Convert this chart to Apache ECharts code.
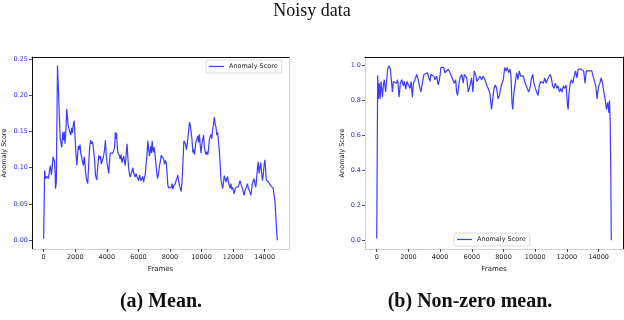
<!DOCTYPE html>
<html>
<head>
<meta charset="utf-8">
<script src="https://cdn.jsdelivr.net/npm/echarts@6/dist/echarts.min.js"></script>
<style>
  html, body { margin: 0; padding: 0; background: #fff; }
  #chart { width: 624px; height: 320px; }
</style>
</head>
<body>
<div id="chart"></div>
<script>
// tick values
const frameTicks = [0, 2000, 4000, 6000, 8000, 10000, 12000, 14000]
const meanTicks = [0, 0.05, 0.10, 0.15, 0.20, 0.25]
const nonZeroTicks = [0, 0.2, 0.4, 0.6, 0.8, 1.0]

// (a) mean anomaly score, [frame, score]
const meanScores = [
  [0, 0.002], [60, 0.096], [120, 0.085], [200, 0.088], [300, 0.085], [380, 0.098], [430, 0.103],
  [490, 0.090], [540, 0.100], [590, 0.115], [640, 0.112], [690, 0.108], [720, 0.095], [750, 0.071],
  [800, 0.080], [840, 0.078], [875, 0.241], [920, 0.215], [970, 0.186], [1010, 0.160], [1050, 0.140],
  [1100, 0.133], [1150, 0.128], [1210, 0.149], [1260, 0.138], [1300, 0.150], [1350, 0.133], [1400, 0.148],
  [1460, 0.181], [1500, 0.172], [1550, 0.158], [1620, 0.156], [1670, 0.148], [1720, 0.145], [1770, 0.155],
  [1820, 0.148], [1880, 0.160], [1930, 0.165], [1980, 0.145], [2040, 0.121], [2100, 0.103], [2150, 0.118],
  [2200, 0.130], [2250, 0.125], [2300, 0.132], [2350, 0.120], [2410, 0.118], [2460, 0.108], [2520, 0.103],
  [2560, 0.115], [2600, 0.110], [2650, 0.095], [2700, 0.085], [2790, 0.078], [2870, 0.112], [2920, 0.130],
  [2970, 0.138], [3030, 0.133], [3080, 0.136], [3130, 0.131], [3180, 0.133], [3230, 0.110], [3280, 0.090],
  [3360, 0.083], [3420, 0.100], [3490, 0.117], [3550, 0.112], [3600, 0.116], [3650, 0.105], [3700, 0.103],
  [3750, 0.112], [3800, 0.117], [3860, 0.125], [3910, 0.138], [3960, 0.120], [4010, 0.107], [4060, 0.100],
  [4120, 0.092], [4170, 0.108], [4220, 0.120], [4270, 0.118], [4330, 0.122], [4380, 0.120], [4440, 0.124],
  [4490, 0.128], [4540, 0.149], [4580, 0.140], [4620, 0.148], [4660, 0.130], [4700, 0.121], [4750, 0.120],
  [4790, 0.117], [4850, 0.112], [4900, 0.118], [4960, 0.107], [5010, 0.112], [5070, 0.116], [5120, 0.108],
  [5170, 0.103], [5230, 0.120], [5280, 0.133], [5330, 0.115], [5380, 0.100], [5440, 0.090], [5490, 0.087],
  [5540, 0.092], [5590, 0.095], [5650, 0.100], [5700, 0.093], [5750, 0.090], [5800, 0.087], [5860, 0.092],
  [5900, 0.088], [5960, 0.085], [6010, 0.082], [6070, 0.090], [6120, 0.088], [6170, 0.082], [6220, 0.085],
  [6280, 0.088], [6330, 0.080], [6380, 0.086], [6430, 0.090], [6490, 0.105], [6540, 0.117], [6600, 0.137],
  [6650, 0.125], [6700, 0.116], [6740, 0.122], [6780, 0.130], [6830, 0.120], [6870, 0.137], [6920, 0.125],
  [6960, 0.121], [7000, 0.128], [7040, 0.121], [7080, 0.112], [7120, 0.103], [7170, 0.092], [7210, 0.085],
  [7260, 0.090], [7340, 0.103], [7400, 0.110], [7445, 0.117], [7500, 0.115], [7550, 0.118], [7600, 0.112],
  [7655, 0.105], [7710, 0.110], [7760, 0.107], [7810, 0.095], [7865, 0.076], [7920, 0.072], [7970, 0.071],
  [8020, 0.074], [8080, 0.073], [8130, 0.078], [8180, 0.070], [8240, 0.075], [8290, 0.073], [8340, 0.078],
  [8395, 0.083], [8450, 0.086], [8500, 0.090], [8550, 0.082], [8600, 0.076], [8650, 0.078], [8710, 0.067],
  [8760, 0.080], [8815, 0.103], [8880, 0.137], [8930, 0.135], [8980, 0.133], [9045, 0.125], [9090, 0.132],
  [9130, 0.140], [9180, 0.150], [9235, 0.163], [9290, 0.158], [9340, 0.156], [9390, 0.140], [9450, 0.121],
  [9500, 0.125], [9550, 0.118], [9600, 0.128], [9655, 0.137], [9710, 0.140], [9760, 0.144], [9810, 0.135],
  [9865, 0.146], [9920, 0.130], [9970, 0.120], [10020, 0.132], [10075, 0.139], [10130, 0.145], [10180, 0.128],
  [10230, 0.122], [10285, 0.118], [10340, 0.122], [10390, 0.118], [10440, 0.125], [10495, 0.139], [10550, 0.140],
  [10600, 0.146], [10650, 0.140], [10705, 0.153], [10760, 0.160], [10810, 0.170], [10860, 0.160], [10915, 0.156],
  [10970, 0.145], [11020, 0.149], [11080, 0.135], [11145, 0.117], [11190, 0.100], [11230, 0.083], [11280, 0.078],
  [11335, 0.071], [11390, 0.080], [11440, 0.089], [11490, 0.085], [11545, 0.080], [11600, 0.085], [11650, 0.088],
  [11700, 0.080], [11755, 0.076], [11810, 0.072], [11860, 0.078], [11910, 0.070], [11965, 0.073], [12020, 0.068],
  [12070, 0.064], [12120, 0.070], [12175, 0.073], [12230, 0.075], [12280, 0.071], [12330, 0.074], [12385, 0.078],
  [12440, 0.082], [12490, 0.078], [12540, 0.075], [12595, 0.071], [12650, 0.066], [12700, 0.062], [12750, 0.068],
  [12805, 0.070], [12860, 0.075], [12910, 0.078], [12960, 0.072], [13015, 0.070], [13070, 0.066], [13120, 0.062],
  [13170, 0.070], [13225, 0.078], [13280, 0.082], [13330, 0.085], [13380, 0.078], [13435, 0.073], [13490, 0.085],
  [13540, 0.099], [13590, 0.108], [13645, 0.092], [13700, 0.100], [13750, 0.107], [13800, 0.095], [13855, 0.082],
  [13910, 0.090], [13960, 0.103], [14010, 0.111], [14050, 0.100], [14100, 0.083], [14150, 0.085], [14210, 0.083],
  [14260, 0.080], [14315, 0.078], [14370, 0.075], [14420, 0.073], [14480, 0.075], [14530, 0.072], [14590, 0.070],
  [14650, 0.054], [14700, 0.035], [14760, 0.012], [14800, 0.000]
]

// (b) non-zero mean anomaly score, [frame, score]
const nonZeroScores = [
  [0, 0.01], [60, 0.945], [105, 0.81], [160, 0.90], [210, 0.81], [270, 0.91], [360, 0.82], [420, 0.89],
  [480, 0.92], [560, 0.85], [630, 0.92], [690, 0.98], [780, 1.0], [860, 0.98], [945, 0.99], [990, 0.85],
  [1050, 0.91], [1155, 0.92], [1250, 0.90], [1320, 0.92], [1410, 0.82], [1490, 0.90], [1575, 0.92], [1680, 0.885],
  [1740, 0.91], [1830, 0.866], [1910, 0.91], [2000, 0.89], [2100, 0.87], [2170, 0.91], [2250, 0.82], [2310, 0.90],
  [2415, 0.92], [2520, 0.95], [2620, 0.92], [2730, 0.87], [2790, 0.85], [2880, 0.90], [2980, 0.95], [3090, 0.96],
  [3200, 0.96], [3255, 0.97], [3360, 0.91], [3420, 0.95], [3530, 0.96], [3590, 0.94], [3680, 0.92], [3780, 0.94],
  [3885, 0.89], [3990, 0.94], [4050, 0.99], [4140, 0.98], [4220, 0.99], [4300, 0.96], [4410, 0.97], [4520, 0.98],
  [4620, 0.97], [4720, 0.94], [4830, 0.93], [4890, 0.90], [4980, 0.92], [5040, 0.85], [5100, 0.83], [5180, 0.89],
  [5250, 0.93], [5360, 0.95], [5460, 0.90], [5520, 0.95], [5600, 0.96], [5680, 0.93], [5775, 0.85], [5880, 0.885],
  [5985, 0.93], [6070, 0.85], [6150, 0.97], [6240, 0.95], [6320, 0.91], [6400, 0.92], [6510, 0.94], [6620, 0.92],
  [6720, 0.94], [6825, 0.92], [6930, 0.89], [7035, 0.87], [7140, 0.84], [7245, 0.75], [7300, 0.75], [7400, 0.87],
  [7480, 0.89], [7570, 0.87], [7650, 0.81], [7740, 0.83], [7820, 0.87], [7905, 0.90], [7990, 0.92], [8075, 0.99],
  [8160, 0.97], [8240, 0.99], [8320, 0.96], [8410, 0.98], [8470, 0.94], [8535, 0.79], [8580, 0.75], [8660, 0.85],
  [8740, 0.90], [8830, 0.96], [8910, 0.92], [8995, 0.97], [9080, 0.94], [9165, 0.93], [9250, 0.94], [9335, 0.91],
  [9420, 0.90], [9500, 0.87], [9590, 0.85], [9670, 0.87], [9750, 0.92], [9840, 0.95], [9920, 0.90], [10010, 0.87],
  [10090, 0.85], [10180, 0.83], [10260, 0.885], [10345, 0.91], [10430, 0.92], [10515, 0.90], [10600, 0.93], [10685, 0.90],
  [10770, 0.92], [10850, 0.91], [10940, 0.95], [11020, 0.93], [11100, 0.885], [11190, 0.87], [11270, 0.90], [11360, 0.87],
  [11440, 0.885], [11530, 0.85], [11610, 0.87], [11700, 0.85], [11780, 0.885], [11870, 0.87], [11950, 0.89], [12040, 0.77],
  [12080, 0.75], [12120, 0.83], [12210, 0.90], [12290, 0.92], [12380, 0.90], [12460, 0.94], [12550, 0.97], [12630, 0.93],
  [12720, 0.98], [12800, 0.99], [12890, 0.98], [12970, 0.99], [13060, 0.97], [13140, 0.90], [13230, 0.97], [13310, 0.98],
  [13395, 0.97], [13480, 0.96], [13570, 0.97], [13650, 0.94], [13740, 0.93], [13820, 0.885], [13905, 0.81], [13950, 0.85],
  [14010, 0.885], [14080, 0.90], [14160, 0.93], [14250, 0.90], [14330, 0.85], [14410, 0.81], [14500, 0.75], [14580, 0.79],
  [14650, 0.73], [14690, 0.80], [14735, 0.655], [14770, 0.39], [14800, 0.0]
]

const lineColor = '#3c3cff'
const sans = 'DejaVu Sans'
const serif = 'Liberation Serif'

function bottomAxis (gi, spineColor) {
  return {
    type: 'value',
    gridIndex: gi,
    min: -740,
    max: 15540,
    position: 'bottom',
    name: 'Frames',
    nameLocation: 'middle',
    nameGap: 15,
    nameTextStyle: { fontSize: 7, color: '#222', fontFamily: sans },
    axisLine: { show: true, onZero: false, lineStyle: { color: spineColor, width: 1 } },
    axisTick: { show: true, length: 3, lineStyle: { color: '#222', width: 0.8 }, customValues: frameTicks },
    axisLabel: {
      fontSize: 6.5,
      color: '#222',
      fontFamily: sans,
      margin: 5,
      customValues: frameTicks,
      formatter: (v) => String(v)
    },
    splitLine: { show: false }
  }
}

function topAxis (gi) {
  return {
    type: 'value',
    gridIndex: gi,
    min: -740,
    max: 15540,
    position: 'top',
    axisLine: { show: true, onZero: false, lineStyle: { color: '#111', width: 1 } },
    axisTick: { show: false },
    axisLabel: { show: false },
    splitLine: { show: false }
  }
}

function leftAxis (gi, min, max, ticks, digits, spineColor, gap) {
  return {
    type: 'value',
    gridIndex: gi,
    min: min,
    max: max,
    position: 'left',
    name: 'Anomaly Score',
    nameLocation: 'middle',
    nameGap: gap,
    nameTextStyle: { fontSize: 6.5, color: '#222', fontFamily: sans },
    axisLine: { show: true, onZero: false, lineStyle: { color: spineColor, width: 1 } },
    axisTick: { show: true, length: 3, lineStyle: { color: '#222', width: 0.8 }, customValues: ticks },
    axisLabel: {
      fontSize: 6.5,
      color: '#3333ee',
      fontFamily: sans,
      margin: 4,
      customValues: ticks,
      formatter: (v) => v.toFixed(digits)
    },
    splitLine: { show: false }
  }
}

function rightAxis (gi, min, max, spineColor) {
  return {
    type: 'value',
    gridIndex: gi,
    min: min,
    max: max,
    position: 'right',
    axisLine: { show: true, onZero: false, lineStyle: { color: spineColor, width: 1 } },
    axisTick: { show: false },
    axisLabel: { show: false },
    splitLine: { show: false }
  }
}

function legendBox (left, top) {
  return {
    left: left,
    top: top,
    data: [{ name: 'Anomaly Score', icon: 'rect' }],
    itemWidth: 15,
    itemHeight: 1.2,
    itemGap: 4,
    selectedMode: false,
    padding: [3, 4, 3, 3],
    borderColor: '#d4d4d4',
    borderWidth: 0.8,
    borderRadius: 2,
    backgroundColor: '#fff',
    textStyle: { fontSize: 6.5, color: '#222', fontFamily: sans }
  }
}

let chart = echarts.init(document.getElementById('chart'), null, { renderer: 'canvas' })
chart.setOption({
  animation: false,
  backgroundColor: '#fff',
  title: [
    {
      text: 'Noisy data',
      left: 'center',
      top: 2,
      padding: 0,
      textStyle: { fontFamily: serif, fontSize: 18, fontWeight: 'normal', color: '#111' }
    },
    {
      text: '(a) Mean.',
      left: 161,
      top: 292,
      textAlign: 'center',
      padding: 0,
      textStyle: { fontFamily: serif, fontSize: 20, fontWeight: 'bold', color: '#111' }
    },
    {
      text: '(b) Non-zero mean.',
      left: 470,
      top: 292,
      textAlign: 'center',
      padding: 0,
      textStyle: { fontFamily: serif, fontSize: 20, fontWeight: 'bold', color: '#111' }
    }
  ],
  legend: [legendBox(206, 60), legendBox(454, 233)],
  grid: [
    { left: 32, top: 57, width: 257, height: 192 },
    { left: 365, top: 57, width: 258, height: 192 }
  ],
  xAxis: [
    bottomAxis(0, '#d0d0d0'),
    topAxis(0),
    bottomAxis(1, '#d0d0d0'),
    topAxis(1)
  ],
  yAxis: [
    leftAxis(0, -0.0121, 0.2527, meanTicks, 2, '#111', 24),
    rightAxis(0, -0.0121, 0.2527, '#d0d0d0'),
    leftAxis(1, -0.05, 1.05, nonZeroTicks, 1, '#d0d0d0', 19),
    rightAxis(1, -0.05, 1.05, '#111')
  ],
  series: [
    {
      name: 'Anomaly Score',
      type: 'line',
      xAxisIndex: 0,
      yAxisIndex: 0,
      showSymbol: false,
      symbol: 'none',
      lineStyle: { color: lineColor, width: 1.2 },
      itemStyle: { color: lineColor },
      data: meanScores
    },
    {
      name: 'Anomaly Score',
      type: 'line',
      xAxisIndex: 2,
      yAxisIndex: 2,
      showSymbol: false,
      symbol: 'none',
      lineStyle: { color: lineColor, width: 1.2 },
      itemStyle: { color: lineColor },
      data: nonZeroScores
    }
  ]
})
</script>
</body>
</html>
